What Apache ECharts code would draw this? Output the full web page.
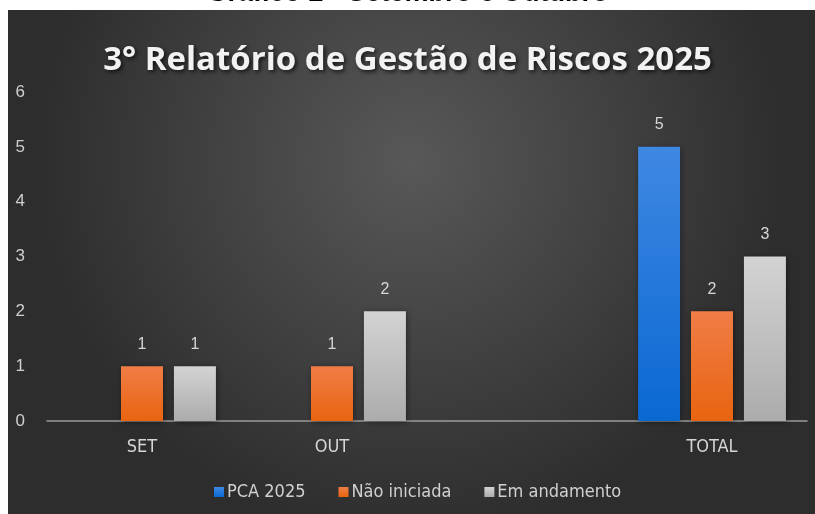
<!DOCTYPE html>
<html>
  <head>
    <meta charset="utf-8" />
    <title>ECharts</title>
    <script src="https://cdn.jsdelivr.net/npm/echarts@6/dist/echarts.min.js"></script>
    <style>
      html, body { margin: 0; padding: 0; background: #fff; }
    </style>
  </head>
  <body>
    <div id="main" style="width: 815px;height:514px;"></div>
    <script type="text/javascript">
// dados do gráfico
const categorias = ['SET', 'OUT', '', 'TOTAL'];
const pca2025 = ['-', '-', '-', 5];
const naoIniciada = [1, 1, '-', 2];
const emAndamento = [1, 2, '-', 3];
const yTicks = [0, 6, 1]; // min, max, intervalo

const narrow = "'Liberation Sans Narrow', 'DejaVu Sans Condensed', 'Roboto Condensed', sans-serif";

var chartDom = document.getElementById('main');
var myChart = echarts.init(chartDom);
var option;

function vgrad(top, bottom) {
  return new echarts.graphic.LinearGradient(0, 0, 0, 1, [
    { offset: 0, color: top },
    { offset: 1, color: bottom }
  ]);
}

function barSerie(name, data, top, bottom) {
  return {
    name: name,
    type: 'bar',
    data: data,
    barWidth: 42,
    barGap: '26%',
    itemStyle: {
      color: vgrad(top, bottom),
      shadowColor: 'rgba(0,0,0,0.45)',
      shadowBlur: 6,
      shadowOffsetX: 1,
      shadowOffsetY: 1
    },
    label: {
      show: true,
      position: 'top',
      distance: 14,
      color: '#d6d6d6',
      fontSize: 16,
      fontFamily: 'Liberation Sans, Arial, sans-serif'
    }
  };
}

option = {
  backgroundColor: '#ffffff',
  graphic: [
    {
      type: 'rect',
      silent: true,
      z: -10,
      shape: { x: 8, y: 10, width: 807, height: 504 },
      style: {
        fill: new echarts.graphic.RadialGradient(0.5, 0.3, 0.75, [
          { offset: 0, color: '#585858' },
          { offset: 1, color: '#2d2d2d' }
        ])
      }
    }
  ],
  title: [
    {
      text: 'Gráfico 2 - Setembro e Outubro',
      left: 'center',
      top: -25,
      textStyle: {
        color: '#000',
        fontSize: 27,
        fontWeight: 'bold',
        fontFamily: 'Liberation Sans, Arial, sans-serif'
      }
    },
    {
      text: '3° Relatório de Gestão de Riscos 2025',
      left: 'center',
      top: 39,
      textStyle: {
        color: '#f2f2f2',
        fontSize: 33,
        fontWeight: 'bold',
        fontFamily: "'Open Sans', sans-serif",
        textShadowColor: 'rgba(0,0,0,0.7)',
        textShadowBlur: 4,
        textShadowOffsetX: 2,
        textShadowOffsetY: 2
      }
    }
  ],
  legend: {
    bottom: 8,
    left: 209,
    icon: 'rect',
    itemWidth: 10,
    itemHeight: 10,
    itemGap: 33,
    textStyle: {
      color: '#d0d0d0',
      fontSize: 18,
      fontFamily: narrow,
      padding: [0, 0, 0, -2]
    },
    data: ['PCA 2025', 'Não iniciada', 'Em andamento']
  },
  grid: {
    left: 47,
    right: 8,
    top: 92,
    bottom: 93,
    containLabel: false
  },
  xAxis: {
    type: 'category',
    data: categorias,
    axisLine: { lineStyle: { color: '#9a9a9a', width: 1.5 } },
    axisTick: { show: false },
    axisLabel: {
      color: '#d6d6d6',
      fontSize: 18,
      margin: 17,
      fontFamily: narrow
    }
  },
  yAxis: {
    type: 'value',
    min: yTicks[0],
    max: yTicks[1],
    interval: yTicks[2],
    splitLine: { show: false },
    axisLine: { show: false },
    axisTick: { show: false },
    axisLabel: {
      color: '#cfcfcf',
      fontSize: 17,
      margin: 22,
      fontFamily: 'Liberation Sans, Arial, sans-serif'
    }
  },
  series: [
    barSerie('PCA 2025', pca2025, '#3f88e2', '#0a68d2'),
    barSerie('Não iniciada', naoIniciada, '#f07d46', '#e8640f'),
    barSerie('Em andamento', emAndamento, '#d3d3d3', '#acacac')
  ]
};

option && myChart.setOption(option);
    </script>
  </body>
</html>
